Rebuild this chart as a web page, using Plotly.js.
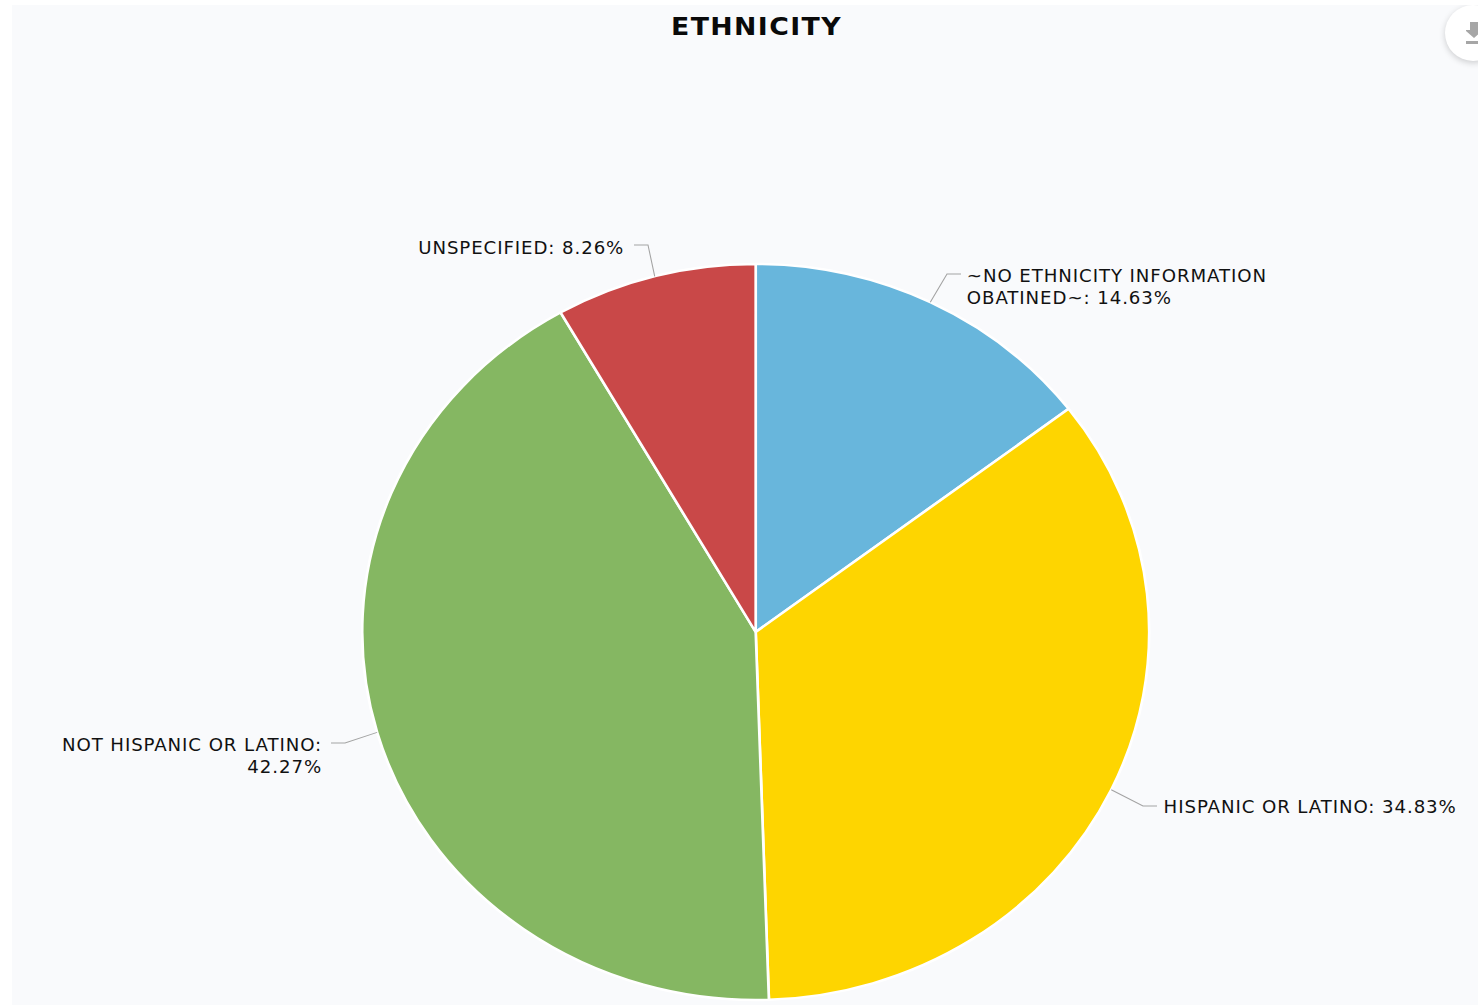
<!DOCTYPE html>
<html>
<head>
<meta charset="utf-8">
<script src="https://cdn.plot.ly/plotly-3.0.1.min.js"></script>
<style>
  html, body { margin: 0; padding: 0; width: 1478px; height: 1006px; background: #ffffff; overflow: hidden; }
  #panel { position: absolute; left: 12px; top: 5px; width: 1466px; height: 1000px; background: #f9fafc; overflow: hidden; }
  #chart { position: absolute; left: 0; top: 0; height: 1000px; transform-origin: 0 0; }
  #chart .annotation-text { letter-spacing: 0.85px; }
  #chart .gtitle { letter-spacing: 1.3px; }
  #download { position: absolute; left: 1433px; top: 0; width: 56px; height: 56px; border-radius: 50%; background: #ffffff;
              box-shadow: 0 2px 6px rgba(0,0,0,0.18); }
  #download svg { position: absolute; left: 21px; top: 17px; }
</style>
</head>
<body>
<div id="panel">
  <div id="chart"></div>
  <div id="download">
    <svg width="24" height="24" viewBox="0 0 24 24"><path d="M4 0h8v8h5l-9 8-9-8h5zM-1 19h20v3h-20z" fill="#a6a6a6"/></svg>
  </div>
</div>
<script>
// Share of records per ethnicity, clockwise from twelve o'clock
const categories = ["~NO ETHNICITY INFORMATION OBATINED~", "HISPANIC OR LATINO", "NOT HISPANIC OR LATINO", "UNSPECIFIED"];
const shares = [14.63, 34.83, 42.27, 8.26];
const sliceColors = ["#68b6dc", "#fed500", "#85b762", "#c94848"];
const labelLines = [
  ["~NO ETHNICITY INFORMATION", "OBATINED~: 14.63%"],
  ["HISPANIC OR LATINO: 34.83%"],
  ["NOT HISPANIC OR LATINO:", "42.27%"],
  ["UNSPECIFIED: 8.26%"]
];

// The chart is wider than tall: the drawing is laid out on a narrower box and stretched
const PANEL_W = 1466, PANEL_H = 1000, STRETCH = 393.5 / 368;
const W = PANEL_W / STRETCH;
const CX = 743.7 / STRETCH, CY = 627, R = 368;

const paperX = px => px / W;
const paperY = py => 1 - py / PANEL_H;

// Label placement and leader-line elbow for each slice, in panel pixels
const placement = [
  { tx: 953, ty: 281.5, anchor: "left", elbow: [935, 269], end: [949, 269] },
  { tx: 1149, ty: 802, anchor: "left", elbow: [1131, 801], end: [1145, 801] },
  { tx: 312.5, ty: 750.5, anchor: "right", elbow: [333, 738], end: [319, 738] },
  { tx: 614.5, ty: 243, anchor: "right", elbow: [636, 240], end: [622, 240] }
];

const total = shares.reduce((a, b) => a + b, 0);
let running = 0;
const shapes = [], annotations = [];
shares.forEach((v, i) => {
  // Leader lines start on the rim at the middle of each slice
  const mid = (running + v / 2) / total * 2 * Math.PI;
  running += v;
  const rimX = CX + R * Math.sin(mid), rimY = CY - R * Math.cos(mid);
  const p = placement[i];
  const ex = p.elbow[0] / STRETCH, nx = p.end[0] / STRETCH;
  shapes.push({
    type: "path", xref: "paper", yref: "paper",
    path: `M ${paperX(rimX)} ${paperY(rimY)} L ${paperX(ex)} ${paperY(p.elbow[1])} L ${paperX(nx)} ${paperY(p.end[1])}`,
    line: { color: "#a3a3a3", width: 1 }
  });
  annotations.push({
    xref: "paper", yref: "paper", showarrow: false,
    x: paperX(p.tx / STRETCH), y: paperY(p.ty),
    xanchor: p.anchor, yanchor: "middle", align: p.anchor,
    text: labelLines[i].join("<br>"),
    font: { family: "DejaVu Sans, Verdana, sans-serif", size: 17, color: "#111111" }
  });
});

const trace = {
  type: "pie",
  labels: categories,
  values: shares,
  sort: false,
  direction: "clockwise",
  rotation: 0,
  textinfo: "none",
  hoverinfo: "label+percent",
  marker: { colors: sliceColors, line: { color: "#ffffff", width: 2.5 } },
  domain: {
    x: [paperX(CX - R), paperX(CX + R)],
    y: [paperY(CY + R), paperY(CY - R)]
  }
};

const layout = {
  width: W,
  height: PANEL_H,
  margin: { l: 0, r: 0, t: 0, b: 0 },
  paper_bgcolor: "rgba(0,0,0,0)",
  showlegend: false,
  title: {
    text: "<b>ETHNICITY</b>",
    x: 744.5 / PANEL_W, xanchor: "center",
    y: 1 - 21 / PANEL_H, yanchor: "middle",
    font: { family: "DejaVu Sans, Verdana, sans-serif", size: 25, color: "#0a0a0a" }
  },
  shapes: shapes,
  annotations: annotations
};

const chart = document.getElementById("chart");
chart.style.width = W + "px";
chart.style.transform = `scaleX(${STRETCH})`;
Plotly.newPlot(chart, [trace], layout, { displayModeBar: false, responsive: false });
</script>
</body>
</html>
